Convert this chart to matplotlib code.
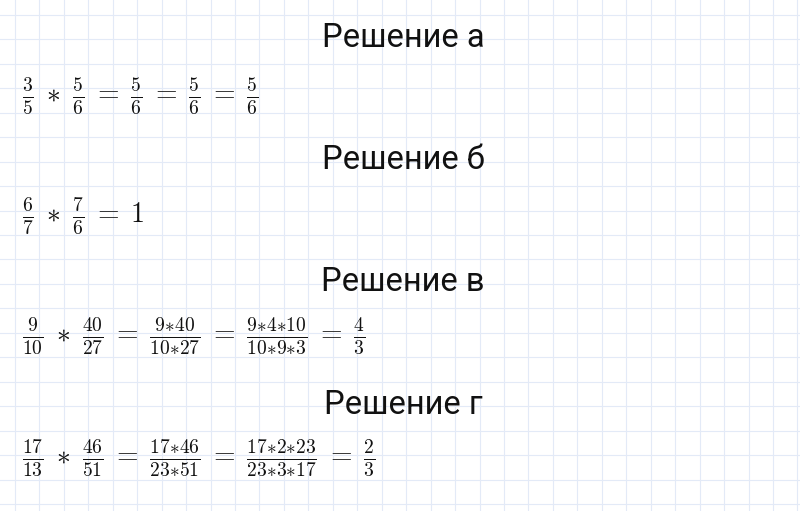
import matplotlib.pyplot as plt

# headings and formulas shown on the page
titles = ["Решение а", "Решение б", "Решение в", "Решение г"]
formulas = [
    r"$\frac{3}{5}\;*\;\frac{5}{6}\;=\;\frac{5}{6}\;=\;\frac{5}{6}\;=\;\frac{5}{6}$",
    r"$\frac{6}{7}\;*\;\frac{7}{6}\;=\;1$",
    r"$\frac{9}{10}\;*\;\frac{40}{27}\;=\;\frac{9{*}40}{10{*}27}\;=\;\frac{9{*}4{*}10}{10{*}9{*}3}\;=\;\frac{4}{3}$",
    r"$\frac{17}{13}\;*\;\frac{46}{51}\;=\;\frac{17{*}46}{23{*}51}\;=\;\frac{17{*}2{*}23}{23{*}3{*}17}\;=\;\frac{2}{3}$",
]
title_y = [38, 160, 282, 405]
formula_y = [96, 216, 336, 458]

plt.rcParams['mathtext.fontset'] = 'cm'
W, H = 800, 511
fig = plt.figure(figsize=(W / 100, H / 100), dpi=100)
ax = fig.add_axes([0, 0, 1, 1])
ax.set_xlim(0, W)
ax.set_ylim(H, 0)
ax.axis('off')

# squared paper background
step = 24.45
x = 15.0
while x < W:
    ax.axvline(x, color='#e3eaf7', lw=0.8)
    x += step
y = 15.0
while y < H:
    ax.axhline(y, color='#e3eaf7', lw=0.8)
    y += step

for t, ty in zip(titles, title_y):
    ax.text(403, ty, t, ha='center', va='center', fontsize=23.5, family='Roboto', color='#111111')
for f, fy in zip(formulas, formula_y):
    ax.text(22, fy, f, ha='left', va='center', fontsize=20, color='#111111')

fig.savefig('out.png', dpi=100)
